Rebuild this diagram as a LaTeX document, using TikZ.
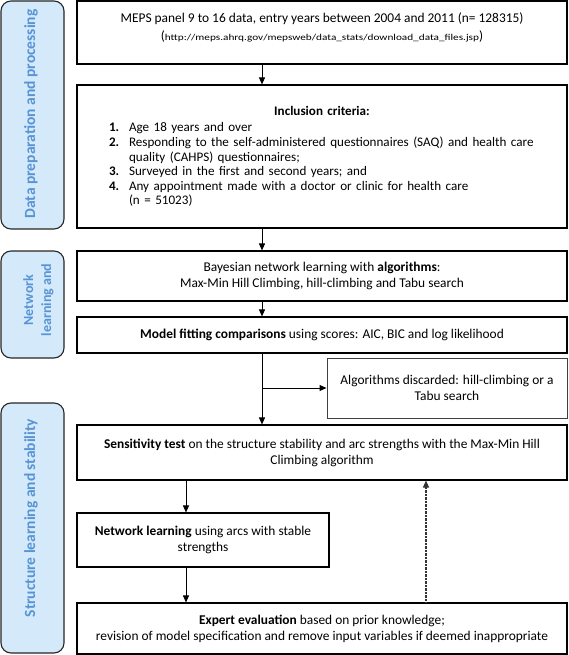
\documentclass[tikz,border=0pt]{standalone}
\usepackage{fontspec}
\setmainfont{Carlito}
\usetikzlibrary{arrows.meta,calc}
\definecolor{barfill}{RGB}{212,233,250}
\definecolor{bartxt}{RGB}{88,148,212}
\tikzset{
  box/.style={draw=black, line width=1.1pt, fill=white, inner sep=0pt, align=center},
  listbox/.style={draw=black, line width=1.1pt, fill=white, inner sep=0pt},
  sidebar/.style={draw=black!85, line width=1.1pt, fill=barfill, rounded corners=10pt, inner sep=0pt},
  bartext/.style={text=bartxt, font=\fontsize{15.5}{18}\selectfont\bfseries, rotate=90, inner sep=0pt, align=center},
  arr/.style={-{Triangle[length=7pt,width=6pt]}, line width=1pt},
  back/.style={-{Triangle[length=7pt,width=6pt]}, line width=1.1pt, draw=black!80, dash pattern=on 0.9pt off 0.5pt}
}
\newcommand{\itemnum}[1]{\leftskip=12pt\noindent\makebox[20pt][l]{\textbf{#1}}}
\newcommand{\itemcont}{\leftskip=32pt\noindent}
\begin{document}
\begin{tikzpicture}[x=1pt,y=-1pt,font=\fontsize{13.4}{16}\selectfont]
\useasboundingbox (0,0) rectangle (568,655);

% side bars
\node[sidebar, minimum width=63pt, minimum height=228pt] (s1) at (32.5,115) {};
\node[bartext] (s1t) at (31,114) {Data preparation and processing};
\node[sidebar, minimum width=63pt, minimum height=107pt] (s2) at (32.5,304.5) {};
\node[bartext, font=\fontsize{14}{18}\selectfont\bfseries] (s2t) at (38.5,300) {Network\\learning and};
\node[sidebar, minimum width=63pt, minimum height=250pt] (s3) at (32.5,528) {};
\node[bartext] (s3t) at (31,518) {Structure learning and stability};

% spine coordinates
\coordinate (sp) at (262,0);
\coordinate (lx) at (186,0);
\coordinate (ux) at (426,0);

% boxes
\node[box, minimum width=490pt, minimum height=63pt] (b1) at (322,32.5) {};
\node[inner sep=0pt, align=center] (b1t) at (322,28) {MEPS panel 9 to 16 data, entry years between 2004 and 2011 (n= 128315)\\[2pt]
(\scalebox{1.25}[1]{\fontsize{9}{10}\selectfont http://meps.ahrq.gov/mepsweb/data\_stats/download\_data\_files.jsp})};

\node[listbox, minimum width=490pt, minimum height=143pt, text width=450pt] (b2) at (322,156.5) {%
\parindent=0pt\parskip=0pt\fontsize{13.1}{14.6}\selectfont\raggedright
{\leftskip=0pt plus 1fil\rightskip=0pt plus 1fil\parfillskip=0pt\noindent\textbf{Inclusion criteria:}\par}
\vspace{2pt}
\itemnum{1.}Age 18 years and over\par
\itemnum{2.}\mbox{Responding to the self-administered questionnaires (SAQ) and health care}\par
\itemcont quality (CAHPS) questionnaires;\par
\itemnum{3.}Surveyed in the first and second years; and\par
\itemnum{4.}Any appointment made with a doctor or clinic for health care\par
\itemcont (n = 51023)\par};

\node[box, minimum width=490pt, minimum height=50pt] (b3) at (322,276) {Bayesian network learning with \textbf{algorithms}:\\Max-Min Hill Climbing, hill-climbing and Tabu search};

\node[box, minimum width=490pt, minimum height=36pt] (b4) at (322,335) {\textbf{Model fitting comparisons} using scores: AIC, BIC and log likelihood};

\node[box, draw=black!75, line width=1pt, minimum width=240pt, minimum height=60pt] (disc) at (447,388) {Algorithms discarded: hill-climbing or a\\Tabu search};

\node[box, minimum width=490pt, minimum height=55pt] (b5) at (322,452.5) {\textbf{Sensitivity test} on the structure stability and arc strengths with the Max-Min Hill\\Climbing algorithm};

\node[box, minimum width=252pt, minimum height=54pt] (b6) at (203,540) {\textbf{Network learning} using arcs with stable\\strengths};

\node[box, minimum width=490pt, minimum height=51pt] (b7) at (322,628.5) {\textbf{Expert evaluation} based on prior knowledge;\\revision of model specification and remove input variables if deemed inappropriate};

% connectors
\draw[arr] (b1.south -| sp) -- (b2.north -| sp);
\draw[arr] (b2.south -| sp) -- (b3.north -| sp);
\draw[arr] (b3.south -| sp) -- (b4.north -| sp);
\draw[arr] (b4.south -| sp) -- (b5.north -| sp);
\draw[arr] (disc.west -| sp) -- (disc.west);
\draw[arr] (b5.south -| lx) -- (b6.north -| lx);
\draw[arr] (b6.south -| lx) -- (b7.north -| lx);
\draw[back] (b7.north -| ux) -- (b5.south -| ux);
\end{tikzpicture}
\end{document}
